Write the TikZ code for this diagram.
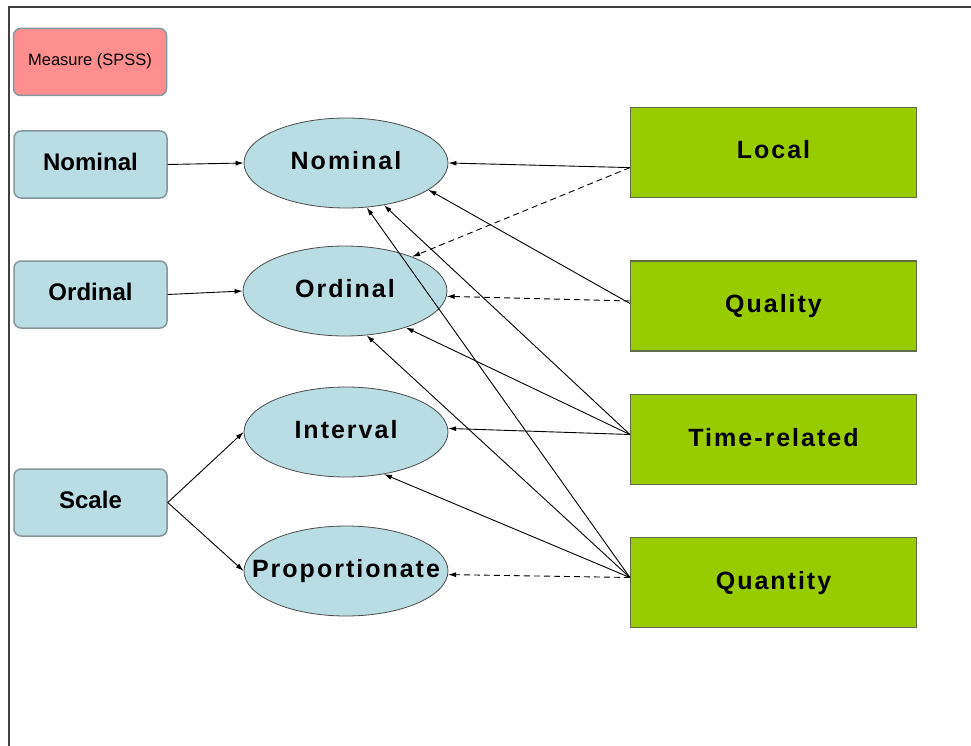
\documentclass[tikz,border=0pt]{standalone}
\usepackage{fontspec}
\setmainfont{Liberation Sans}
\newfontfamily\widesans[LetterSpace=8]{Liberation Sans}
\usepackage{tikz}
\usetikzlibrary{arrows.meta, positioning, shapes.geometric}

\definecolor{pinkfill}{RGB}{255,143,143}
\definecolor{bluefill}{RGB}{184,221,226}
\definecolor{bluedraw}{RGB}{130,152,158}
\definecolor{greenfill}{RGB}{153,204,0}
\definecolor{greendraw}{RGB}{95,108,70}
\newcommand{\etxt}[1]{\makebox[0pt]{#1}}

\begin{document}
\begin{tikzpicture}[x=1pt, y=-1pt,
    lbox/.style={draw=bluedraw, line width=1.5pt, rounded corners=7pt, fill=bluefill, minimum width=153pt, minimum height=67pt, text height=17pt, text depth=5pt, font=\fontsize{24}{28}\selectfont\bfseries},
    ell/.style={draw=black!70, line width=0.8pt, ellipse, fill=bluefill, minimum width=204pt, minimum height=90pt, inner sep=0pt, text height=18pt, text depth=5pt, font=\fontsize{25}{30}\selectfont\widesans\bfseries},
    gbox/.style={draw=greendraw, line width=1.2pt, fill=greenfill, minimum width=286pt, minimum height=90pt, text height=18pt, text depth=5pt, font=\fontsize{25}{30}\selectfont\widesans\bfseries},
    conn/.style={-{Latex[length=8pt, width=5pt]}, line width=0.9pt},
    dconn/.style={conn, dash pattern=on 6pt off 4pt}
]
\useasboundingbox (0,0) rectangle (971,746);
\draw[line width=1.2pt, black!75] (9,746) -- (9,7) -- (971,7);

% SPSS measures
\node[lbox, fill=pinkfill, text height=12pt, text depth=4pt, font=\fontsize{16.5}{20}\selectfont] (msr) at (90,62) {Measure (SPSS)};
\node[lbox] (nomB) at (90.5,164.5) {Nominal};
\node[lbox] (ordB) at (90.5,294.5) {Ordinal};
\node[lbox] (scaB) at (90.5,502.5) {Scale};

% Scale types
\node[ell] (nomE) at (346,163) {\etxt{Nominal}};
\node[ell] (ordE) at (345,291) {\etxt{Ordinal}};
\node[ell] (intE) at (346,432) {\etxt{Interval}};
\node[ell] (proE) at (346,571) {\etxt{Proportionate}};

% Data groups
\node[gbox] (loc) at (773.5,152.5) {Local};
\node[gbox] (qua) at (773.5,306) {Quality};
\node[gbox] (tim) at (773.5,439.5) {Time-related};
\node[gbox] (qty) at (773.5,582.5) {Quantity};

% Measure -> scale type
\draw[conn] (nomB.east) -- (nomE.west);
\draw[conn] (ordB.east) -- (ordE.west);
\draw[conn] (scaB.east) -- (intE.west);
\draw[conn] (scaB.east) -- (proE.west);

% Group -> scale type
\foreach \s/\t in {loc.186/nomE.east, qua.179/nomE.342, tim.178/nomE.312, qty.178/nomE.295,
                   tim.178/ordE.329, qty.178/ordE.296, tim.178/intE.2, qty.178/intE.312} {
    \draw[conn] (\s) -- (\t);
}
\foreach \s/\t in {loc.186/ordE.27, qua.178/ordE.357, qty.178/proE.358} {
    \draw[dconn] (\s) -- (\t);
}

\end{tikzpicture}
\end{document}
